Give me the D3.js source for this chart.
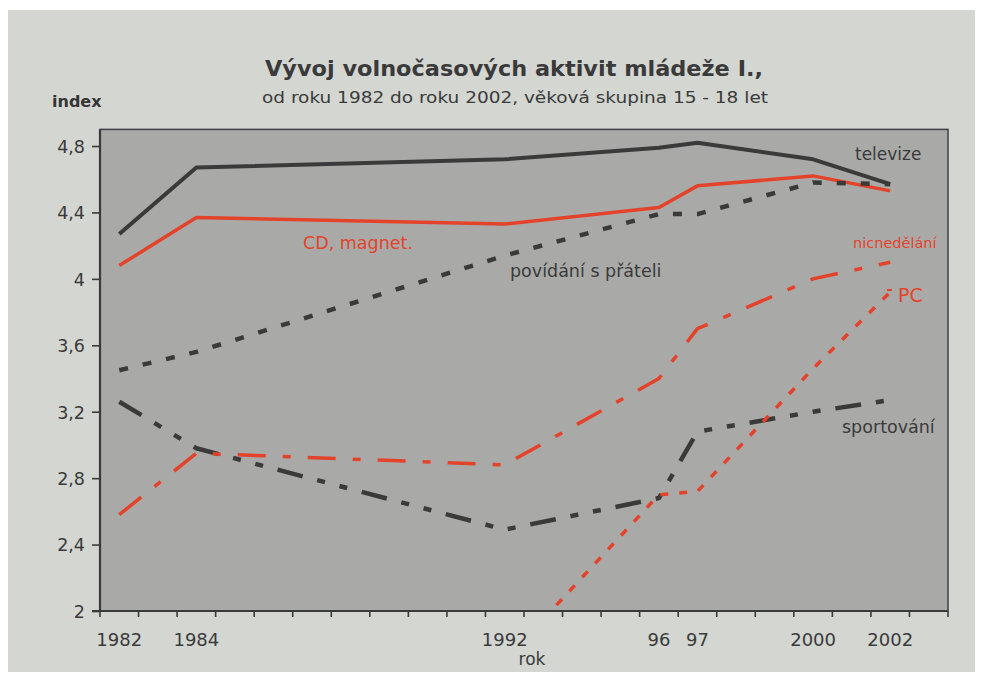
<!DOCTYPE html>
<html>
<head>
<meta charset="utf-8">
<script src="https://cdn.jsdelivr.net/npm/d3@7"></script>
<style>
	body {margin: 0; background: #fff;}
	svg {display: block;}
	text {font-family: "DejaVu Sans", sans-serif;}
</style>
</head>
<body>
<svg id="chart" width="983" height="675"></svg>
<script>
const years = [1982, 1984, 1992, 1996, 1997, 2000, 2002];
const axisYears = d3.range(1982, 2004);
const yTicks = [2, 2.4, 2.8, 3.2, 3.6, 4, 4.4, 4.8];
const xTickYears = [1982, 1984, 1992, 1996, 1997, 2000, 2002];
const xTickLabels = ['1982', '1984', '1992', '96', '97', '2000', '2002'];

const televize = [4.27, 4.67, 4.72, 4.79, 4.82, 4.72, 4.57];
const cdMagnet = [4.08, 4.37, 4.33, 4.43, 4.56, 4.62, 4.53];
const povidani = [3.45, 3.56, 4.14, 4.39, 4.39, 4.58, 4.57];
const nicnedelani = [2.58, 2.95, 2.88, 3.40, 3.70, 4.00, 4.10];
const pc = [null, null, 1.70, 2.70, 2.72, 3.46, 3.92];
const sportovani = [3.26, 2.98, 2.49, 2.68, 3.08, 3.20, 3.27];

const dark = '#3a3a3a';
const red = '#e4432b';

const series = [
	{values: televize, color: dark, width: 4, dash: null},
	{values: cdMagnet, color: red, width: 3.5, dash: null},
	{values: povidani, color: dark, width: 4.5, dash: '9,15'},
	{values: sportovani, color: dark, width: 4.5, dash: '26,15,8,15,8,15'},
	{values: nicnedelani, color: red, width: 3.5, dash: '28,17,8,17'},
	{values: pc, color: red, width: 3.5, dash: '8,11'}
];

const labels = [
	{text: 'televize', x: 855, y: 160, size: 17, color: dark},
	{text: 'CD, magnet.', x: 303, y: 249, size: 17.5, color: red},
	{text: 'povídání s přáteli', x: 510, y: 277, size: 17.5, color: dark},
	{text: 'nicnedělání', x: 853, y: 248, size: 14.5, color: red},
	{text: 'PC', x: 898, y: 302, size: 19, color: red},
	{text: 'sportování', x: 842, y: 433, size: 17.5, color: dark}
];

const svg = d3.select('#chart');
const plot = {left: 100, right: 948, top: 129.4, bottom: 611};

const x = d3.scaleBand().domain(axisYears).range([plot.left, plot.right]);
const y = d3.scaleLinear().domain([2, 4.9]).range([plot.bottom, plot.top]);
const cx = year => x(year) + x.bandwidth() / 2;

// paper
svg.append('rect')
	.attr('x', 8).attr('y', 10).attr('width', 967).attr('height', 662)
	.attr('fill', '#d4d6d2');

// titles
svg.append('text')
	.attr('x', 514).attr('y', 76)
	.attr('text-anchor', 'middle')
	.attr('font-size', 21).attr('font-weight', 'bold')
	.attr('fill', '#3a3a3a')
	.attr('textLength', 498).attr('lengthAdjust', 'spacingAndGlyphs')
	.text('Vývoj volnočasových aktivit mládeže I.,');
svg.append('text')
	.attr('x', 515).attr('y', 103)
	.attr('text-anchor', 'middle')
	.attr('font-size', 16)
	.attr('fill', '#3a3a3a')
	.attr('textLength', 506).attr('lengthAdjust', 'spacingAndGlyphs')
	.text('od roku 1982 do roku 2002, věková skupina 15 - 18 let');
svg.append('text')
	.attr('x', 52).attr('y', 107)
	.attr('font-size', 16).attr('font-weight', 'bold')
	.attr('fill', '#353535')
	.text('index');

// plot area
svg.append('rect')
	.attr('x', plot.left).attr('y', plot.top)
	.attr('width', plot.right - plot.left).attr('height', plot.bottom - plot.top)
	.attr('fill', '#a9aaa8')
	.attr('stroke', '#3f3f45').attr('stroke-width', 1.5);

svg.append('defs').append('clipPath').attr('id', 'clip')
	.append('rect')
	.attr('x', plot.left).attr('y', plot.top)
	.attr('width', plot.right - plot.left).attr('height', plot.bottom - plot.top);

// y axis
const yAxis = d3.axisLeft(y)
	.tickValues(yTicks)
	.tickSize(8)
	.tickPadding(7)
	.tickFormat(v => String(v).replace('.', ','));
svg.append('g')
	.attr('transform', `translate(${plot.left}, 0)`)
	.call(yAxis)
	.call(g => g.select('.domain').remove())
	.call(g => g.selectAll('line').attr('stroke', dark).attr('stroke-width', 1.6))
	.call(g => g.selectAll('text')
		.attr('font-size', 17.5)
		.attr('fill', dark)
		.attr('dy', '0.36em')
		.style('font-family', '"DejaVu Sans", sans-serif'));

svg.append('line')
	.attr('x1', plot.left).attr('x2', plot.left)
	.attr('y1', plot.top).attr('y2', plot.bottom)
	.attr('stroke', dark).attr('stroke-width', 2.2);

// x axis
const xAxis = d3.axisBottom(x)
	.tickValues(xTickYears)
	.tickSize(0)
	.tickPadding(22)
	.tickFormat(year => xTickLabels[xTickYears.indexOf(year)]);
svg.append('g')
	.attr('transform', `translate(0, ${plot.bottom})`)
	.call(xAxis)
	.call(g => g.select('.domain').remove())
	.call(g => g.selectAll('text')
		.attr('font-size', 18)
		.attr('fill', dark)
		.style('font-family', '"DejaVu Sans", sans-serif'));

svg.append('g')
	.selectAll('line')
	.data(axisYears.concat([null]))
	.join('line')
	.attr('x1', d => d === null ? plot.right : x(d))
	.attr('x2', d => d === null ? plot.right : x(d))
	.attr('y1', plot.bottom)
	.attr('y2', plot.bottom + 6)
	.attr('stroke', dark).attr('stroke-width', 1.6);

svg.append('line')
	.attr('x1', plot.left - 8).attr('x2', plot.right)
	.attr('y1', plot.bottom).attr('y2', plot.bottom)
	.attr('stroke', dark).attr('stroke-width', 2.2);

svg.append('text')
	.attr('x', 532).attr('y', 665)
	.attr('text-anchor', 'middle')
	.attr('font-size', 17)
	.attr('fill', dark)
	.text('rok');

// lines
const line = d3.line()
	.defined(d => d.value !== null)
	.x(d => cx(d.year))
	.y(d => y(d.value));

svg.append('g')
	.attr('clip-path', 'url(#clip)')
	.selectAll('path')
	.data(series)
	.join('path')
	.attr('d', s => line(years.map((year, i) => ({year, value: s.values[i]}))))
	.attr('fill', 'none')
	.attr('stroke', s => s.color)
	.attr('stroke-width', s => s.width)
	.attr('stroke-dasharray', s => s.dash)
	.attr('stroke-linejoin', 'round');

// labels
svg.append('g')
	.selectAll('text')
	.data(labels)
	.join('text')
	.attr('x', d => d.x)
	.attr('y', d => d.y)
	.attr('font-size', d => d.size)
	.attr('fill', d => d.color)
	.text(d => d.text);

svg.append('line')
	.attr('x1', 887).attr('x2', 892)
	.attr('y1', 290).attr('y2', 290)
	.attr('stroke', red).attr('stroke-width', 2);
</script>
</body>
</html>
